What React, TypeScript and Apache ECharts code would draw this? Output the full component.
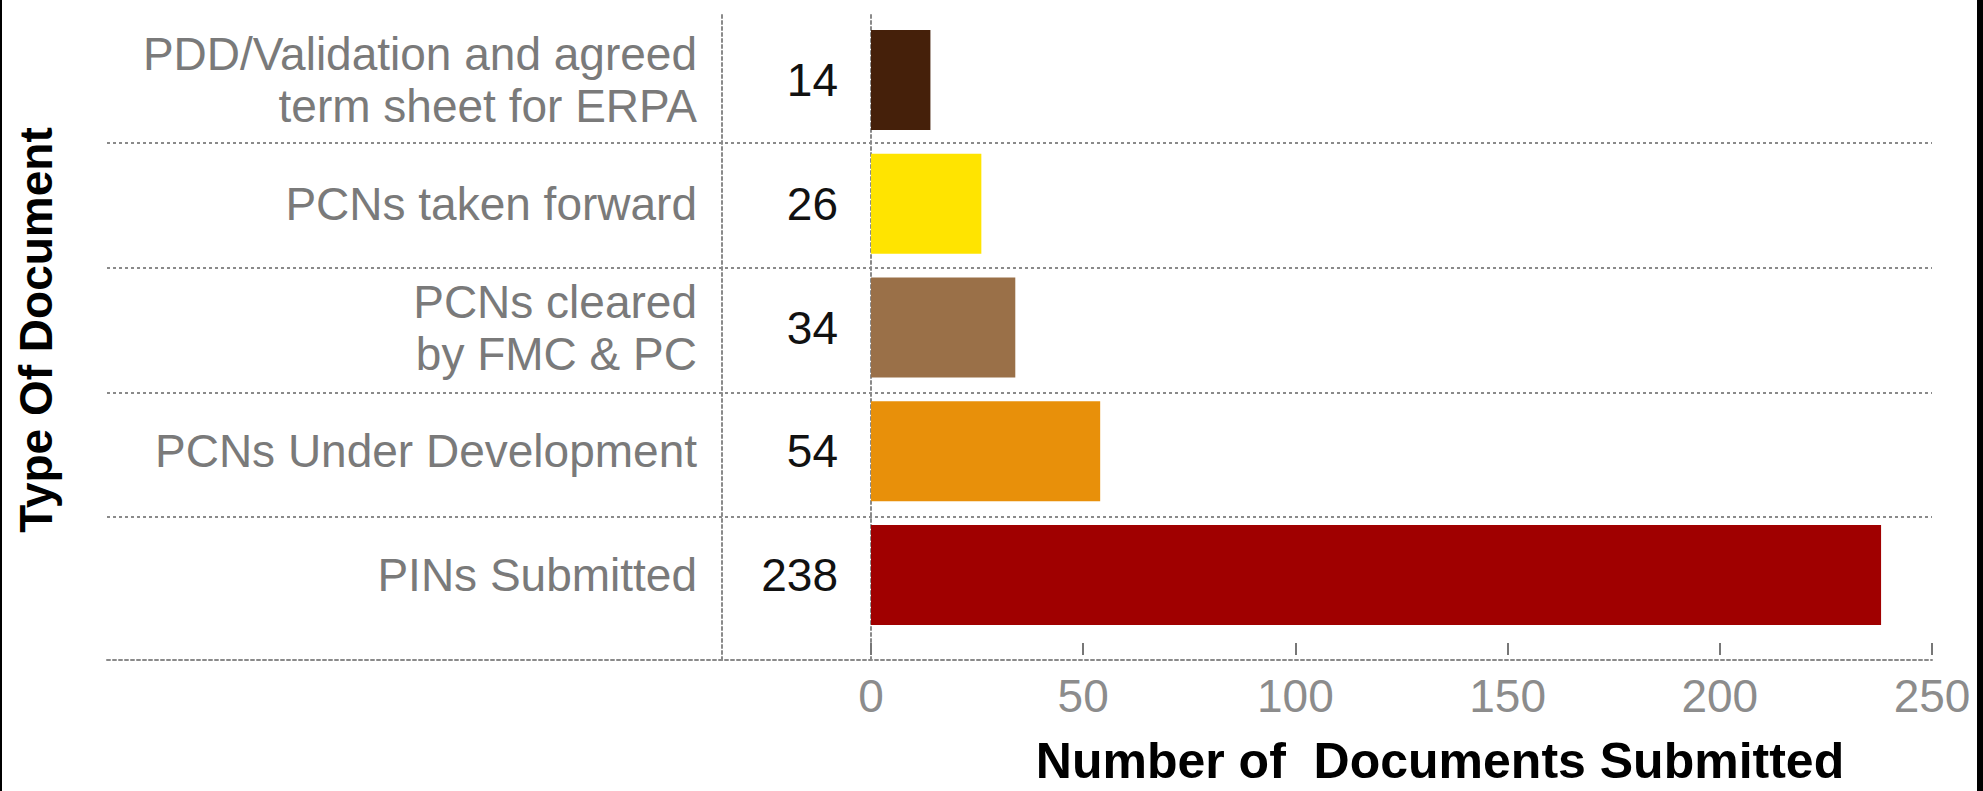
import React, { useEffect, useRef } from "react";
import * as echarts from "echarts";

const categories = [
  "PDD/Validation and agreed\nterm sheet for ERPA",
  "PCNs taken forward",
  "PCNs cleared\nby FMC & PC",
  "PCNs Under Development",
  "PINs Submitted",
];
const values = [14, 26, 34, 54, 238];
const barColors = ["#45200a", "#ffe400", "#9a7048", "#e8900a", "#a00000"];
const xTitle = "Number of  Documents Submitted";
const yTitle = "Type Of Document";

const FONT = "'Liberation Sans', Arial, sans-serif";
const DOT = { color: "#8a8a8a", width: 2, type: [3, 3] as any };

export default function App() {
  const ref = useRef<HTMLDivElement>(null);
  useEffect(() => {
    if (!ref.current) return;
    const chart = echarts.init(ref.current, null, { renderer: "svg" });
    chart.setOption({
      animation: false,
      backgroundColor: "#ffffff",
      textStyle: { fontFamily: FONT },
      grid: [
        { left: 871, right: 51, top: 18, height: 624 },
        { left: 107, right: 51, top: 18, height: 624 },
        { left: 722, right: 1112, top: 13, height: 647 },
      ],
      xAxis: [
        {
          type: "value",
          gridIndex: 0,
          min: 0,
          max: 250,
          interval: 50,
          offset: 18,
          axisLine: { show: false },
          axisTick: { show: true, inside: true, length: 12, lineStyle: { color: "#777", width: 2 } },
          axisLabel: { fontSize: 46, color: "#8c8c8c", margin: 18, fontFamily: FONT },
          splitLine: { show: false },
          name: xTitle,
          nameLocation: "middle",
          nameGap: 81,
          nameTextStyle: {
            fontSize: 50,
            fontWeight: "bold",
            color: "#000",
            fontFamily: FONT,
            padding: [0, 0, 0, 77],
          },
        },
        {
          type: "value",
          gridIndex: 1,
          min: 0,
          max: 1,
          offset: 18,
          axisLine: { show: true, lineStyle: DOT },
          axisTick: { show: false },
          axisLabel: { show: false },
          splitLine: { show: false },
        },
        {
          type: "value",
          gridIndex: 2,
          min: 0,
          max: 1,
          show: false,
        },
      ],
      yAxis: [
        {
          type: "category",
          gridIndex: 0,
          inverse: true,
          data: categories,
          axisLine: { show: false },
          axisTick: { show: false },
          axisLabel: {
            margin: 174,
            fontSize: 46,
            lineHeight: 52,
            color: "#7a7a7a",
            fontFamily: FONT,
          },
          splitLine: { show: false },
        },
        {
          type: "category",
          gridIndex: 1,
          inverse: true,
          data: categories,
          axisLine: { show: false },
          axisTick: { show: false },
          axisLabel: { show: false },
          splitLine: { show: true, showMinLine: false, showMaxLine: false, lineStyle: DOT },
          name: yTitle,
          nameLocation: "middle",
          nameRotate: 90,
          nameGap: 48,
          nameTextStyle: { fontSize: 46, fontWeight: "bold", color: "#000", fontFamily: FONT },
        },
        {
          type: "category",
          gridIndex: 2,
          position: "left",
          data: [""],
          axisLine: { show: true, lineStyle: DOT },
          axisTick: { show: false },
          axisLabel: { show: false },
          splitLine: { show: false },
        },
        {
          type: "category",
          gridIndex: 2,
          position: "right",
          data: [""],
          axisLine: { show: true, lineStyle: DOT },
          axisTick: { show: false },
          axisLabel: { show: false },
          splitLine: { show: false },
        },
      ],
      series: [
        {
          type: "bar",
          xAxisIndex: 0,
          yAxisIndex: 0,
          barWidth: 100,
          data: values.map((v, i) => ({ value: v, itemStyle: { color: barColors[i] } })),
          label: {
            show: true,
            position: "left",
            distance: 33,
            fontSize: 46,
            color: "#111",
            fontFamily: FONT,
          },
        },
      ],
      graphic: [
        { type: "rect", left: 0, top: 0, shape: { width: 2, height: 791 }, style: { fill: "#000" } },
        { type: "rect", left: 1977, top: 0, shape: { width: 6, height: 791 }, style: { fill: "#000" } },
      ],
    });
    return () => chart.dispose();
  }, []);
  return (
    <div
      ref={ref}
      style={{ position: "absolute", left: 0, top: 0, width: 1983, height: 791 }}
    />
  );
}
